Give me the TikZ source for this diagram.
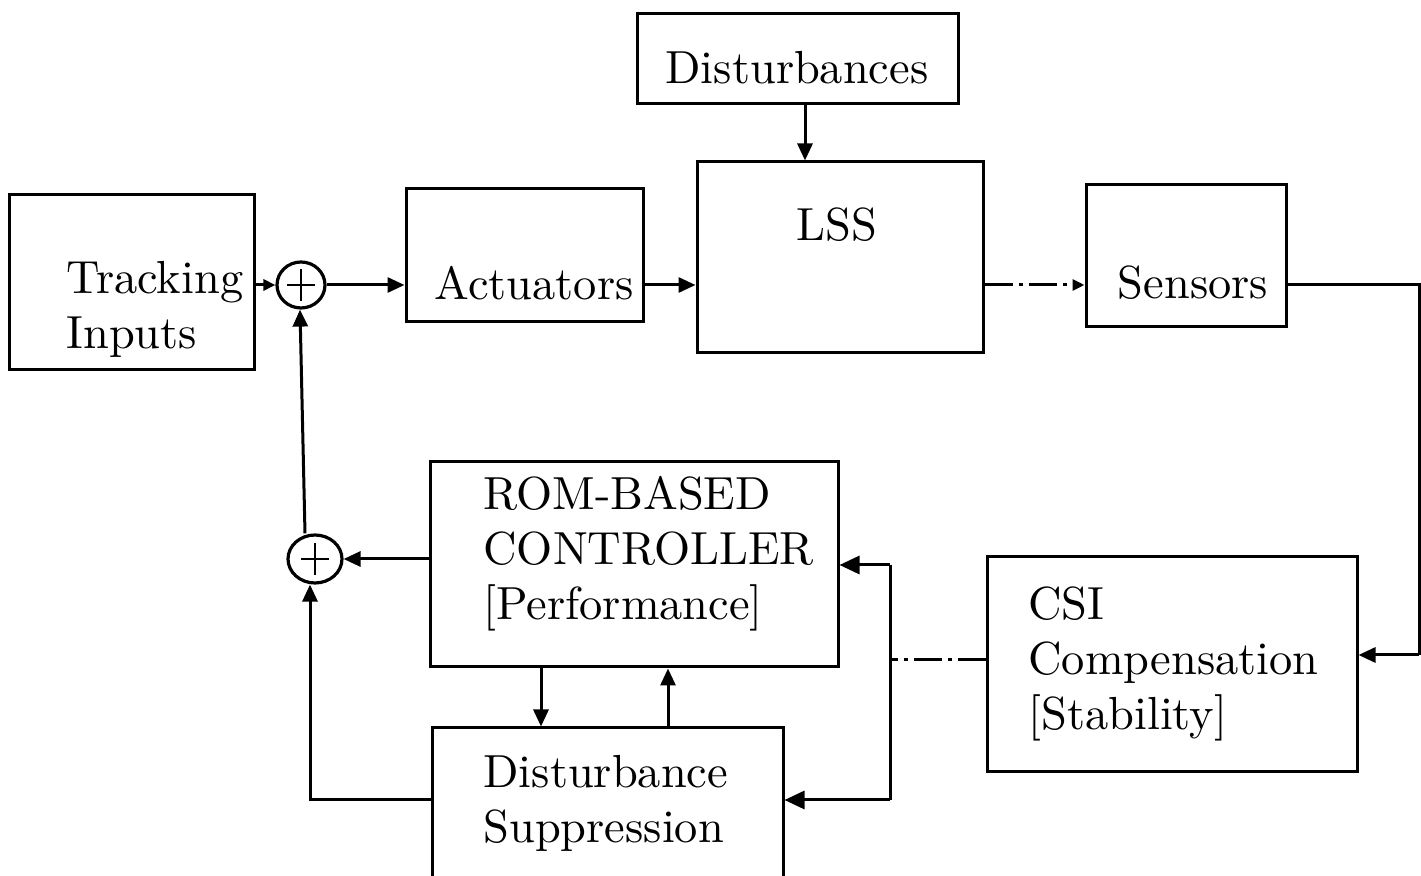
\documentclass[tikz,border=0pt]{standalone}
\usetikzlibrary{arrows.meta,shapes.geometric}
\begin{document}
\begin{tikzpicture}[x=0.5pt,y=-0.5pt,line width=1.5pt,
  box/.style={draw, line width=1.5pt, inner sep=0pt, rectangle},
  txt/.style={scale=2.32, inner sep=0pt, font=\fontsize{10}{11.85}\selectfont, align=left},
  sumnode/.style={draw, line width=1.6pt, ellipse, inner sep=0pt,
    path picture={
      \draw[line width=1.1pt] ([xshift=-7pt]path picture bounding box.center) -- ([xshift=7pt]path picture bounding box.center);
      \draw[line width=1.1pt] ([yshift=-8pt]path picture bounding box.center) -- ([yshift=8pt]path picture bounding box.center);}},
  arr/.style={-{Triangle[length=8.5pt,width=7.5pt]}},
  bigarr/.style={-{Triangle[length=10pt,width=9pt]}},
  smallarr/.style={-{Triangle[length=6pt,width=5.5pt]}},
  dashdotline/.style={dash pattern=on 14pt off 3pt on 2pt off 3pt}]
\useasboundingbox (0,0) rectangle (1421,876);

% boxes
\node[box, minimum width=160.5pt, minimum height=45pt] (dist) at (797.5,59) {};
\node[txt] (distt) at (797,68) {Disturbances};
\node[box, minimum width=143pt, minimum height=95.5pt] (lss) at (840,257.5) {};
\node[txt] (lsst) at (837,225) {LSS};
\node[box, minimum width=122.5pt, minimum height=87.5pt] (track) at (131.5,282.5) {};
\node[txt, anchor=west] (trackt) at (63,309) {Tracking\\Inputs};
\node[box, minimum width=118.5pt, minimum height=66.5pt] (act) at (524.5,255.5) {};
\node[txt] (actt) at (534,283) {Actuators};
\node[box, minimum width=100pt, minimum height=71pt] (sens) at (1186,256) {};
\node[txt] (senst) at (1193,283) {Sensors};
\node[box, minimum width=204pt, minimum height=102.5pt] (rom) at (634,564.5) {};
\node[txt, anchor=west] (romt) at (480,554) {ROM-BASED\\CONTROLLER\\{[Performance]}};
\node[box, minimum width=175.5pt, minimum height=76pt] (ds) at (607.5,804) {};
\node[txt, anchor=west] (dst) at (480,803) {Disturbance\\Suppression};
\node[box, minimum width=185pt, minimum height=107.5pt] (csi) at (1172,664.5) {};
\node[txt, anchor=west] (csit) at (1025,664) {CSI\\Compensation\\{[Stability]}};

% summing junctions
\node[sumnode, minimum width=24pt, minimum height=23pt] (sum1) at (301,285) {};
\node[sumnode, minimum width=27pt, minimum height=24pt] (sum2) at (315,559) {};

% helper coordinates
\coordinate (c1) at (1419,285);
\coordinate (c2) at (1419,655);
\coordinate (vt) at (890,565);
\coordinate (vm) at (890,660);
\coordinate (vb) at (890,800);
\coordinate (a1) at (541,0);
\coordinate (a2) at (668,0);
\coordinate (d1) at (805,0);
\coordinate (u1) at (305,0);
\coordinate (u2) at (300,0);
\coordinate (u3) at (310,0);

% connectors
\draw[arr] (dist.south -| d1) -- (lss.north -| d1);
\draw[smallarr] (track.east |- sum1) -- (sum1.west);
\draw[arr] (sum1.east) -- (sum1.east -| act.west);
\draw[arr] (act.east |- sum1) -- (sum1 -| lss.west);
\draw[smallarr, dashdotline] (lss.east |- sum1) -- (sum1 -| sens.west);
\draw (sens.east |- c1) -- (c1) -- (c2);
\draw[arr] (c2) -- (c2 -| csi.east);
\draw[dashdotline] (vm -| csi.west) -- (vm);
\draw (vt) -- (vb);
\draw[bigarr] (vt) -- (vt -| rom.east);
\draw[bigarr] (vb) -- (vb -| ds.east);
\draw[arr] (rom.west |- sum2) -- (sum2.east);
\draw[arr] (ds.west |- vb) -| (sum2.south -| u3);
\draw[arr] (sum2.north -| u1) -- (sum1.south -| u2);
\draw[arr] (rom.south -| a1) -- (ds.north -| a1);
\draw[arr] (ds.north -| a2) -- (rom.south -| a2);
\end{tikzpicture}
\end{document}
